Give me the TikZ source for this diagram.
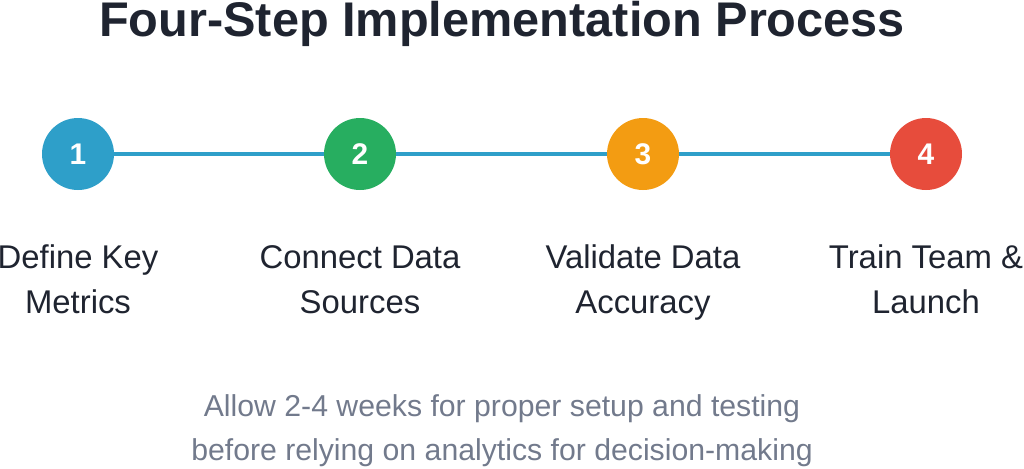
\documentclass[tikz,border=0pt]{standalone}
\usepackage{fontspec}
\setmainfont{Liberation Sans}
\usetikzlibrary{positioning}
\definecolor{stepblue}{HTML}{2E9FC9}
\definecolor{stepgreen}{HTML}{27AE60}
\definecolor{steporange}{HTML}{F39C12}
\definecolor{stepred}{HTML}{E74C3C}
\definecolor{titlegray}{HTML}{1F2430}
\definecolor{notegray}{HTML}{727A8C}
\begin{document}
\begin{tikzpicture}[
    x=0.02cm, y=-0.02cm,
    stepdot/.style={circle, minimum size=1.44cm, inner sep=0pt, text=white, font=\fontsize{17}{20}\selectfont\bfseries},
    steplabel/.style={align=center, font=\fontsize{18.7}{25.5}\selectfont, text=titlegray, text depth=0pt, anchor=base},
    link/.style={line width=2.2pt, stepblue}
]
\useasboundingbox (0,0) rectangle (1024,468);

% Title
\node[font=\fontsize{27.7}{32}\selectfont\bfseries, text=titlegray] (title) at (502,24) {Four-Step Implementation Process};

% Steps
\node[stepdot, fill=stepblue] (s1) at (78,154) {1};
\node[stepdot, fill=stepgreen] (s2) at (360,154) {2};
\node[stepdot, fill=steporange] (s3) at (643,154) {3};
\node[stepdot, fill=stepred] (s4) at (926,154) {4};

% Connectors
\draw[link] (s1) -- (s2);
\draw[link] (s2) -- (s3);
\draw[link] (s3) -- (s4);

% Labels
\node[steplabel] (l1) at (78,313) {Define Key\\Metrics};
\node[steplabel] (l2) at (360,313) {Connect Data\\Sources};
\node[steplabel] (l3) at (643,313) {Validate Data\\Accuracy};
\node[steplabel] (l4) at (926,313) {Train Team \&\\Launch};

% Note
\node[align=center, text=notegray, font=\fontsize{17.2}{25}\selectfont, text depth=0pt, anchor=base] (note) at (502,460)
  {Allow 2-4 weeks for proper setup and testing\\before relying on analytics for decision-making};
\end{tikzpicture}
\end{document}
